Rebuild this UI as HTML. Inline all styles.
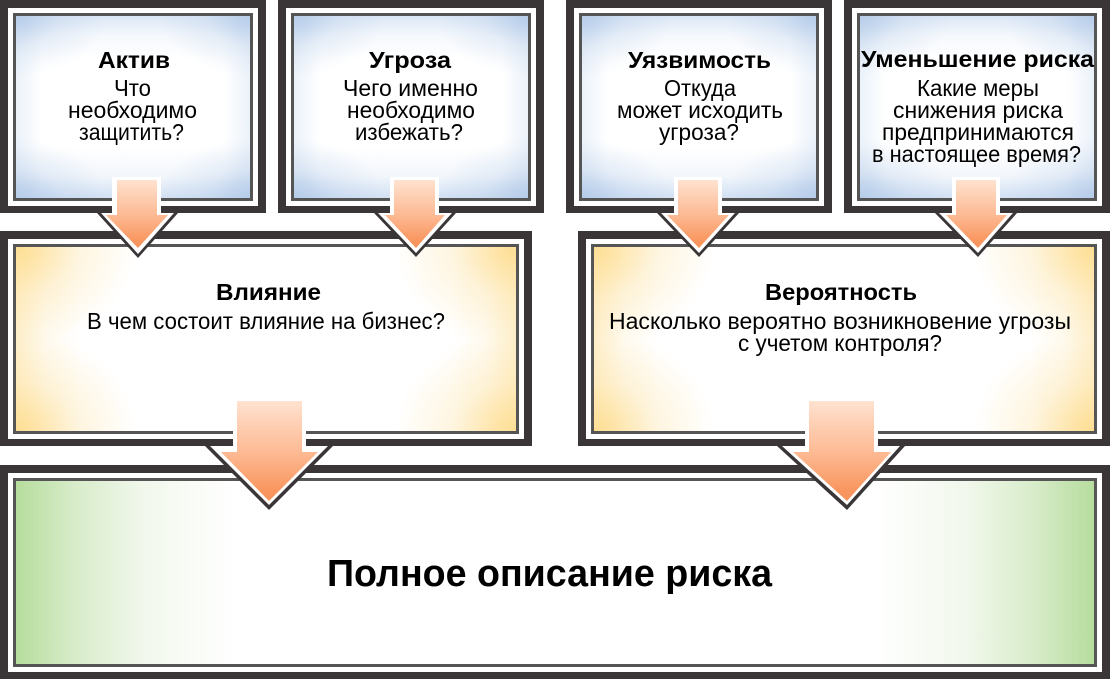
<!DOCTYPE html>
<html><head><meta charset="utf-8"><style>
html,body{margin:0;padding:0;background:#fff;width:1110px;height:679px;overflow:hidden}
.b{position:absolute;box-sizing:border-box;background:#3a3637}
.b i{position:absolute;left:8px;right:8px;top:8px;bottom:7px;background:#fff}
.b u{position:absolute;left:13px;right:13px;top:13px;bottom:12px;background:#555}
.b s{position:absolute;left:16px;right:16px;top:16px;bottom:15px;background-color:#fff}
.bl s{background-image:
radial-gradient(ellipse 90px 60px at 0 0,rgba(176,200,231,.8),rgba(176,200,231,.25) 50%,rgba(176,200,231,0)),
radial-gradient(ellipse 90px 60px at 100% 0,rgba(176,200,231,.8),rgba(176,200,231,.25) 50%,rgba(176,200,231,0)),
radial-gradient(ellipse 90px 60px at 0 100%,rgba(176,200,231,.8),rgba(176,200,231,.25) 50%,rgba(176,200,231,0)),
radial-gradient(ellipse 90px 60px at 100% 100%,rgba(176,200,231,.8),rgba(176,200,231,.25) 50%,rgba(176,200,231,0)),
linear-gradient(180deg,rgba(190,211,238,.55),rgba(190,211,238,.15) 20px,rgba(190,211,238,0) 42px,rgba(190,211,238,0) calc(100% - 50px),rgba(190,211,238,.2) calc(100% - 22px),rgba(190,211,238,.7)),
linear-gradient(90deg,rgba(190,211,238,.3),rgba(190,211,238,0) 26px,rgba(190,211,238,0) calc(100% - 26px),rgba(190,211,238,.3))}
.ye s{background-image:
radial-gradient(ellipse 120px 100px at 0 0,rgba(253,221,145,.95),rgba(253,221,145,.3) 50%,rgba(253,221,145,0)),
radial-gradient(ellipse 120px 100px at 100% 0,rgba(253,221,145,.95),rgba(253,221,145,.3) 50%,rgba(253,221,145,0)),
radial-gradient(ellipse 120px 100px at 0 100%,rgba(253,221,145,.95),rgba(253,221,145,.3) 50%,rgba(253,221,145,0)),
radial-gradient(ellipse 120px 100px at 100% 100%,rgba(253,221,145,.95),rgba(253,221,145,.3) 50%,rgba(253,221,145,0)),
linear-gradient(90deg,rgba(253,221,145,.45),rgba(253,221,145,.12) 30px,rgba(253,221,145,0) 65px,rgba(253,221,145,0) calc(100% - 65px),rgba(253,221,145,.12) calc(100% - 30px),rgba(253,221,145,.45))}
.gr s{background:linear-gradient(90deg,#b6dd9d 0,#d8ecca 60px,#f2f8ed 130px,#fff 220px,#fff 858px,#f2f8ed 948px,#d8ecca 1018px,#b6dd9d 1078px)}
svg{position:absolute;left:0;top:0}
text{font-family:"Liberation Sans",sans-serif;fill:#000}
.h{font-weight:bold;font-size:23px}
.t{font-size:23px}
</style></head><body>
<div class="b bl" style="left:0;top:0;width:266px;height:213px"><i></i><u></u><s></s></div>
<div class="b bl" style="left:278px;top:0;width:266px;height:213px"><i></i><u></u><s></s></div>
<div class="b bl" style="left:566px;top:0;width:266px;height:213px"><i></i><u></u><s></s></div>
<div class="b bl" style="left:844px;top:0;width:266px;height:213px"><i></i><u></u><s></s></div>
<div class="b ye" style="left:0;top:231px;width:532px;height:215px"><i></i><u></u><s></s></div>
<div class="b ye" style="left:578px;top:231px;width:532px;height:215px"><i></i><u></u><s></s></div>
<div class="b gr" style="left:0;top:465px;width:1110px;height:214px"><i></i><u></u><s></s></div>
<svg width="1110" height="679" viewBox="0 0 1110 679" xmlns="http://www.w3.org/2000/svg">
<defs>
<linearGradient id="a" x1="0" y1="0" x2="0" y2="1"><stop offset="0" stop-color="#ffe2d0"/><stop offset=".5" stop-color="#fdbb95"/><stop offset=".9" stop-color="#f9965f"/><stop offset="1" stop-color="#f8945c"/></linearGradient>
</defs>
<!-- small arrows -->
<polygon fill="#3a3637" points="97,213 178,213 138,258"/>
<polygon fill="#fff" points="112,177 161,177 161,213 174,213 138,254 101,213 112,213"/>
<polygon fill="url(#a)" points="117,180 157,180 157,215 168,215 138,248 106,215 117,215"/>
<polygon fill="#3a3637" points="374,213 456,213 416,257"/>
<polygon fill="#fff" points="390,177 439,177 439,213 452,213 416,253 378,213 390,213"/>
<polygon fill="url(#a)" points="394,180 435,180 435,215 445,215 416,248 385,215 394,215"/>
<polygon fill="#3a3637" points="657,213 739,213 699,257"/>
<polygon fill="#fff" points="674,177 722,177 722,213 735,213 699,253 661,213 674,213"/>
<polygon fill="url(#a)" points="678,180 718,180 718,215 729,215 699,248 667,215 678,215"/>
<polygon fill="#3a3637" points="935,213 1017,213 978,257"/>
<polygon fill="#fff" points="952,177 1000,177 1000,213 1013,213 978,253 939,213 952,213"/>
<polygon fill="url(#a)" points="956,180 996,180 996,215 1007,215 978,248 946,215 956,215"/>
<!-- large arrows -->
<polygon fill="#3a3637" points="205,446 333,446 269,510"/>
<polygon fill="#fff" points="233,398 306,398 306,446 328,446 269,505 210,446 233,446"/>
<polygon fill="url(#a)" points="237,401 302,401 302,452 318,452 269,501 221,452 237,452"/>
<polygon fill="#3a3637" points="777,446 905,446 847,510"/>
<polygon fill="#fff" points="805,398 878,398 878,446 900,446 847,505 782,446 805,446"/>
<polygon fill="url(#a)" points="809,401 874,401 874,452 891,452 847,501 793,452 809,452"/>
<!-- text -->
<text class="h" x="98" y="68" textLength="72" lengthAdjust="spacingAndGlyphs">Актив</text>
<text class="t" x="114" y="96" textLength="37" lengthAdjust="spacingAndGlyphs">Что</text>
<text class="t" x="68" y="118" textLength="129" lengthAdjust="spacingAndGlyphs">необходимо</text>
<text class="t" x="79" y="140" textLength="105" lengthAdjust="spacingAndGlyphs">защитить?</text>
<text class="h" x="369" y="68" textLength="82" lengthAdjust="spacingAndGlyphs">Угроза</text>
<text class="t" x="343" y="96" textLength="135" lengthAdjust="spacingAndGlyphs">Чего именно</text>
<text class="t" x="347" y="118" textLength="128" lengthAdjust="spacingAndGlyphs">необходимо</text>
<text class="t" x="355" y="140" textLength="108" lengthAdjust="spacingAndGlyphs">избежать?</text>
<text class="h" x="628" y="68" textLength="143" lengthAdjust="spacingAndGlyphs">Уязвимость</text>
<text class="t" x="664" y="96" textLength="72" lengthAdjust="spacingAndGlyphs">Откуда</text>
<text class="t" x="617" y="118" textLength="166" lengthAdjust="spacingAndGlyphs">может исходить</text>
<text class="t" x="659" y="140" textLength="80" lengthAdjust="spacingAndGlyphs">угроза?</text>
<text class="h" x="861" y="67" textLength="233" lengthAdjust="spacingAndGlyphs">Уменьшение риска</text>
<text class="t" x="917" y="96" textLength="122" lengthAdjust="spacingAndGlyphs">Какие меры</text>
<text class="t" x="893" y="118" textLength="170" lengthAdjust="spacingAndGlyphs">снижения риска</text>
<text class="t" x="882" y="140" textLength="192" lengthAdjust="spacingAndGlyphs">предпринимаются</text>
<text class="t" x="872" y="162" textLength="209" lengthAdjust="spacingAndGlyphs">в настоящее время?</text>
<text class="h" x="216" y="300" textLength="105" lengthAdjust="spacingAndGlyphs">Влияние</text>
<text class="t" x="87" y="329" textLength="358" lengthAdjust="spacingAndGlyphs">В чем состоит влияние на бизнес?</text>
<text class="h" x="765" y="300" textLength="152" lengthAdjust="spacingAndGlyphs">Вероятность</text>
<text class="t" x="609" y="329" textLength="462" lengthAdjust="spacingAndGlyphs">Насколько вероятно возникновение угрозы</text>
<text class="t" x="738" y="351" textLength="204" lengthAdjust="spacingAndGlyphs">с учетом контроля?</text>
<text x="327" y="586" font-size="38" font-weight="bold" textLength="445" lengthAdjust="spacingAndGlyphs">Полное описание риска</text>
</svg>
</body></html>
